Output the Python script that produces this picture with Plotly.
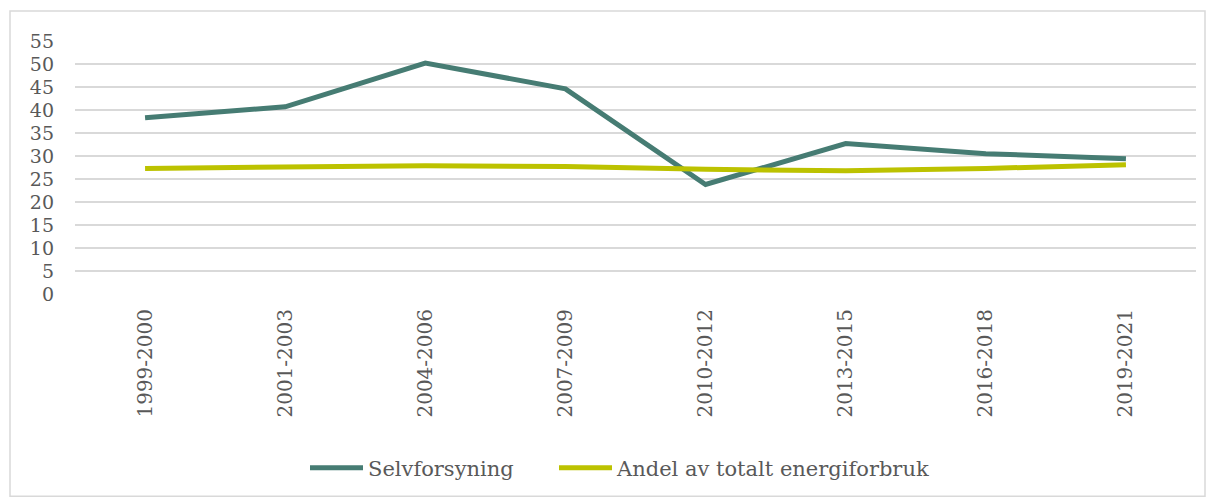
import plotly.graph_objects as go

categories = ["1999-2000", "2001-2003", "2004-2006", "2007-2009", "2010-2012", "2013-2015", "2016-2018", "2019-2021"]
selvforsyning = [38.3, 40.7, 50.2, 44.6, 23.8, 32.7, 30.5, 29.4]
andel = [27.3, 27.5, 27.9, 27.7, 27.1, 26.8, 27.3, 28.1]
y_ticks = [0, 5, 10, 15, 20, 25, 30, 35, 40, 45, 50, 55]

fig = go.Figure()
fig.add_trace(go.Scatter(x=categories, y=selvforsyning, mode="lines", name="Selvforsyning",
                         line=dict(color="#467C73", width=5), legend="legend"))
fig.add_trace(go.Scatter(x=categories, y=andel, mode="lines", name="Andel av totalt energiforbruk",
                         line=dict(color="#BCC200", width=5), legend="legend2"))

W, H = 1208, 499
ml, mr, mt, mb = 75, 12, 41, 204
pw, ph = W - ml - mr, H - mt - mb
leg_y = (mt + ph - 468) / ph

fig.update_layout(
    width=W, height=H,
    margin=dict(l=ml, r=mr, t=mt, b=mb),
    paper_bgcolor="white", plot_bgcolor="white",
    font=dict(family="DejaVu Serif", size=19, color="#595959"),
    showlegend=True,
    legend=dict(orientation="h", x=(305 - ml) / pw, xanchor="left", y=leg_y, yanchor="middle",
                font=dict(size=21), itemwidth=53),
    legend2=dict(orientation="h", x=(554 - ml) / pw, xanchor="left", y=leg_y, yanchor="middle",
                 font=dict(size=21), itemwidth=53),
    xaxis=dict(tickangle=-90, showgrid=False, zeroline=False, showline=False,
               range=[-0.5, 7.5], ticks="", ticklabelstandoff=10, tickfont=dict(size=20)),
    yaxis=dict(range=[0, 55], tickvals=y_ticks, showgrid=True, gridcolor="#D9D9D9", gridwidth=1.5,
               zeroline=False, showline=False, ticklabelstandoff=20, tickfont=dict(size=19)),
    shapes=[dict(type="rect", xref="paper", yref="paper",
                 x0=(10 - ml) / pw, x1=(1205 - ml) / pw,
                 y0=(mt + ph - 498) / ph, y1=(mt + ph - 11) / ph,
                 line=dict(color="#D9D9D9", width=1.5), fillcolor="rgba(0,0,0,0)", layer="below")],
)

fig.write_html("out.html", config={"displayModeBar": False},
               post_script="document.body.style.margin='0px';document.body.style.overflow='hidden';")
